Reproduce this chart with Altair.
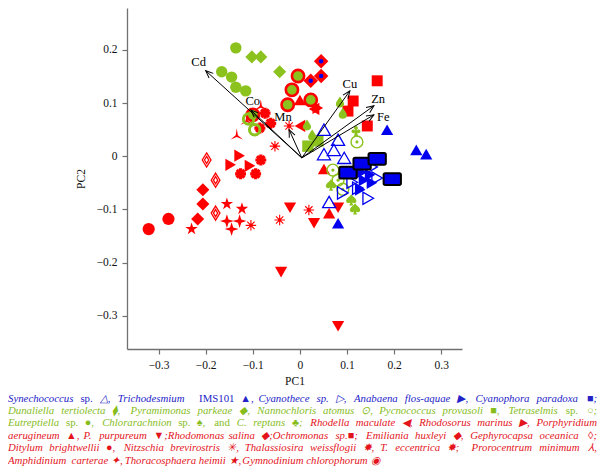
import altair as alt
import pandas as pd

BLUE = "#0000ee"
RED = "#ff0000"
GREEN = "#8cc21e"
TXT_BLUE = "#2323c8"
TXT_RED = "#e4141c"
TXT_GREEN = "#86bd1c"

# ---- species scores (PC1, PC2) ----
syn_x = [0.051, 0.081, 0.072, 0.051, 0.094, 0.062]
syn_y = [0.050, 0.031, 0.012, 0.004, -0.003, -0.086]
tri_x = [0.185, 0.247, 0.268, 0.081]
tri_y = [0.050, 0.012, 0.004, -0.126]
cyt_x = [0.153, 0.164, 0.111, 0.123, 0.145, 0.091]
cyt_y = [-0.020, -0.041, -0.049, -0.060, -0.079, -0.069]
ana_x = [0.132, 0.149, 0.153, 0.128, 0.136]
ana_y = [-0.030, -0.035, -0.050, -0.063, -0.045]
cyp_x = [0.102, 0.132, 0.164, 0.196]
cyp_y = [-0.031, -0.014, -0.005, -0.043]
dun_x = [0.015, 0.026, 0.085, 0.091]
dun_y = [0.059, 0.040, 0.102, 0.081]
pyr_x = [-0.102, -0.083, -0.043]
pyr_y = [0.187, 0.187, 0.159]
nan_x = [0.070, 0.081, 0.091, 0.121]
nan_y = [-0.026, -0.045, -0.062, 0.027]
pyc_x = [0.017, 0.038]
pyc_y = [0.019, 0.029]
tet_x = [-0.096, -0.109]
tet_y = [0.050, 0.070]
eut_x = [-0.136, -0.166, -0.145, -0.136, -0.115]
eut_y = [0.204, 0.159, 0.149, 0.130, 0.123]
chl_x = [0.066, 0.109, 0.117]
chl_y = [-0.054, -0.082, -0.099]
cre_x = [0.119]
cre_y = [0.048]
rhl_x = [0.000, 0.030]
rhl_y = [0.057, 0.089]
rhs_x = [0.038, -0.128, -0.147, -0.106]
rhs_y = [0.091, 0.001, -0.016, -0.018]
pae_x = [0.000, 0.051, 0.062]
pae_y = [0.106, -0.024, -0.107]
ppu_x = [-0.021, 0.081, 0.030, -0.040, 0.081]
ppu_y = [-0.097, -0.097, -0.126, -0.218, -0.320]
rms_x = [0.045, 0.023, 0.045]
rms_y = [0.179, 0.142, 0.151]
och_x = [0.164, 0.113, 0.102, 0.143]
och_y = [0.142, 0.104, 0.085, 0.057]
emi_x = [-0.206, -0.206, -0.217]
emi_y = [-0.063, -0.090, -0.118]
gep_x = [-0.198, -0.179, -0.179]
gep_y = [-0.007, -0.045, -0.107]
dit_x = [-0.321, -0.279]
dit_y = [-0.137, -0.118]
nit_x = [-0.023, -0.053, 0.019, -0.043, -0.104]
nit_y = [0.057, 0.019, -0.101, -0.120, -0.130]
tha_x = [-0.074, -0.062, -0.085, -0.083, -0.126, -0.094]
tha_y = [0.081, 0.062, 0.053, -0.007, -0.033, -0.033]
pro_x = [-0.134, -0.083, -0.113]
pro_y = [0.040, 0.095, 0.068]
amp_x = [-0.155, -0.128, -0.145]
amp_y = [-0.122, -0.122, -0.137]
tho_x = [-0.155, -0.123, -0.230]
tho_y = [-0.090, -0.099, -0.137]
gym_x = [-0.004, -0.017, -0.026, 0.023, -0.100]
gym_y = [0.151, 0.125, 0.097, 0.106, 0.078]

# ---- metal loadings ----
metals = ["Cd", "Co", "Mn", "Cu", "Zn", "Fe"]
load_x = [-0.200, -0.104, -0.023, 0.106, 0.157, 0.157]
load_y = [0.161, 0.087, 0.050, 0.123, 0.095, 0.078]
lab_x = [-0.215, -0.100, -0.036, 0.106, 0.166, 0.177]
lab_y = [0.177, 0.104, 0.074, 0.136, 0.108, 0.074]
origin = [0.004, -0.003]

XTICKS = [-0.3, -0.2, -0.1, 0, 0.1, 0.2, 0.3]
YTICKS = [-0.3, -0.2, -0.1, 0, 0.1, 0.2]

# caption lines: list of (segment, colour); "^" marks an upright word; last line not justified
caption = [
    [("Synechococcus ^sp. △, Trichodesmium  ^IMS101 ▲, Cyanothece sp. ▷, Anabaena flos-aquae ▶, Cyanophora paradoxa ■;", TXT_BLUE)],
    [("Dunaliella tertiolecta ⧫, Pyramimonas parkeae ◆, Nannochloris atomus ⊙, Pycnococcus provasoli ■, Tetraselmis ^sp. ○;", TXT_GREEN)],
    [("Eutreptiella ^sp. ●, Chlorarachnion ^sp. ♠, ^and C. reptans ♣;", TXT_GREEN),
     ("Rhodella maculate ◀, Rhodosorus marinus ▶, Porphyridium", TXT_RED)],
    [("aerugineum ▲, P. purpureum ▼;Rhodomonas salina ◆;Ochromonas sp.■; Emiliania huxleyi ◆, Gephyrocapsa oceanica ◊;", TXT_RED)],
    [("Ditylum brightwellii ●, Nitzschia brevirostris ✳, Thalassiosira weissflogii ✸, T. eccentrica ✸;  Prorocentrum minimum ⅄,", TXT_RED)],
    [("Amphidinium  carterae ✦, Thoracosphaera heimii ★, Gymnodinium chlorophorum ◉", TXT_RED)],
]

# ---- caption layout (approximate Times advance widths, 1/1000 em) ----
FS = 10.8
CW = {" ": 250, ",": 250, ".": 250, ";": 333, "-": 333, ":": 333}
CW.update({d: 500 for d in "0123456789"})
CW.update(dict(zip("ABCDEFGHIJKLMNOPQRSTUVWXYZ",
                   [611, 611, 667, 722, 611, 611, 722, 722, 333, 444, 667, 556, 833, 667, 722, 611, 722,
                    611, 500, 556, 722, 611, 833, 611, 556, 556])))
CW.update(dict(zip("abcdefghijklmnopqrstuvwxyz",
                   [500, 500, 444, 500, 444, 278, 500, 500, 278, 278, 444, 278, 722, 500, 500, 500, 500,
                    389, 389, 278, 500, 444, 667, 444, 444, 389])))


def tw(s):
    return sum(CW.get(c, 780) for c in s) * FS / 1000.0


LEFT, RIGHT = -119, 470
LINE0, STEP = 390.5, 12.4
rows_i, rows_u, rows_r = [], [], []
for i, line in enumerate(caption):
    words = []
    for seg, col in line:
        words += [(w, col) for w in seg.split(" ")]
    words = [(w.lstrip("^"), col, w.startswith("^")) for w, col in words]
    widths = [tw(w) for w, _, _ in words]
    last = i == len(caption) - 1
    gap = tw(" ") if last else (RIGHT - LEFT - sum(widths)) / (len(words) - 1)
    x = LEFT
    yv = LINE0 + STEP * i
    for k, ((w, col, up), wd) in enumerate(zip(words, widths)):
        if w:
            row = {"w": w, "px": x, "py": yv, "col": col}
            if k == len(words) - 1 and not last:
                rows_r.append(dict(row, px=RIGHT))
            elif up:
                rows_u.append(row)
            else:
                rows_i.append(row)
        x += wd + gap

# ---- scales / axes ----
xscale = alt.Scale(domain=[-0.367, 0.344], nice=False, zero=False)
yscale = alt.Scale(domain=[-0.3627, 0.279], nice=False, zero=False)
lab_expr = "datum.value == 0 ? '0' : format(datum.value, '.1f')"
ax = dict(grid=False, domainColor="#707070", tickColor="#707070", domainWidth=1.3, tickWidth=1.2,
          tickSize=5, labelFont="Liberation Serif", labelFontSize=11.5, labelColor="#111",
          titleFont="Liberation Serif", titleFontSize=11.5, titleFontWeight="normal", titleColor="#111",
          labelPadding=5, labelFlush=False, labelOverlap=False)
xaxis = alt.Axis(values=XTICKS, title="PC1", labelExpr=lab_expr, titlePadding=5, **ax)
yaxis = alt.Axis(values=YTICKS, title="PC2", labelExpr=lab_expr, titlePadding=10, **ax)


def X(f="x"):
    return alt.X(f"{f}:Q", scale=xscale, axis=xaxis)


def Y(f="y"):
    return alt.Y(f"{f}:Q", scale=yscale, axis=yaxis)


def df(xs, ys):
    return pd.DataFrame({"x": xs, "y": ys})


def pts(xs, ys, **mk):
    return alt.Chart(df(xs, ys)).mark_point(opacity=1, **mk).encode(x=X(), y=Y())


# ---- custom shapes ----
def circ(cx, cy, r):
    k = 0.552 * r
    return (f"M{cx + r},{cy} C{cx + r},{cy + k} {cx + k},{cy + r} {cx},{cy + r} "
            f"C{cx - k},{cy + r} {cx - r},{cy + k} {cx - r},{cy} "
            f"C{cx - r},{cy - k} {cx - k},{cy - r} {cx},{cy - r} "
            f"C{cx + k},{cy - r} {cx + r},{cy - k} {cx + r},{cy} Z")


RRECT = ("M-0.8,-0.68 L0.8,-0.68 Q1,-0.68 1,-0.48 L1,0.48 Q1,0.68 0.8,0.68 L-0.8,0.68 "
         "Q-1,0.68 -1,0.48 L-1,-0.48 Q-1,-0.68 -0.8,-0.68 Z")
DROP = "M0,-1 C0.3,-0.45 0.75,-0.05 0.75,0.35 C0.75,0.78 0.4,1 0,1 C-0.4,1 -0.75,0.78 -0.75,0.35 C-0.75,-0.05 -0.3,-0.45 0,-1 Z"
SPADE = ("M0,-1 C0.25,-0.6 0.9,-0.3 0.9,0.2 C0.9,0.55 0.5,0.7 0.15,0.45 L0.35,1 L-0.35,1 L-0.15,0.45 "
         "C-0.5,0.7 -0.9,0.55 -0.9,0.2 C-0.9,-0.3 -0.25,-0.6 0,-1 Z")
CLUB = (circ(0, -0.5, 0.34) + " " + circ(-0.46, 0.1, 0.34) + " " + circ(0.46, 0.1, 0.34)
        + " M-0.12,-0.2 L0.12,-0.2 L0.35,1 L-0.35,1 Z")
GEPH = "M0,-1 L0.62,0 L0,1 L-0.62,0 Z M0,-0.5 L0.3,0 L0,0.5 L-0.3,0 Z"
SPOKES = "M-1,0 L1,0 M0,-1 L0,1 M-0.7,-0.7 L0.7,0.7 M-0.7,0.7 L0.7,-0.7"
TRIPOD = "M0,-1 L0.17,0.05 L0.95,0.7 L0,0.3 L-0.95,0.7 L-0.17,0.05 Z"
STAR4 = "M0,-1 L0.24,-0.24 L1,0 L0.24,0.24 L0,1 L-0.24,0.24 L-1,0 L-0.24,-0.24 Z"
STAR5 = ("M0,-1 L0.225,-0.309 L0.951,-0.309 L0.363,0.118 L0.588,0.809 L0,0.382 "
         "L-0.588,0.809 L-0.363,0.118 L-0.951,-0.309 L-0.225,-0.309 Z")
CHEVRON = "M-0.42,1 L0,0 L0.42,1"

layers = [
    # red group
    pts(dit_x, dit_y, shape="circle", size=150, filled=True, fill=RED),
    pts(emi_x, emi_y, shape="diamond", size=170, filled=True, fill=RED),
    pts(gep_x, gep_y, shape=GEPH, size=200, filled=False, stroke=RED, strokeWidth=1.3),
    pts(tho_x, tho_y, shape=STAR5, size=170, filled=True, fill=RED),
    pts(amp_x, amp_y, shape=STAR4, size=190, filled=True, fill=RED),
    pts(nit_x, nit_y, shape=SPOKES, size=110, filled=False, stroke=RED, strokeWidth=1.1),
    pts(nit_x, nit_y, shape="circle", size=12, filled=True, fill=RED),
    pts(tha_x, tha_y, shape=SPOKES, size=120, filled=False, stroke=RED, strokeWidth=3.2),
    pts(tha_x, tha_y, shape="circle", size=45, filled=True, fill=RED),
    pts(pro_x, pro_y, shape=TRIPOD, size=170, filled=True, fill=RED),
    pts(rhs_x, rhs_y, shape="triangle-right", size=150, filled=True, fill=RED),
    pts(rhl_x, rhl_y, shape="triangle-left", size=150, filled=True, fill=RED),
    pts(pae_x, pae_y, shape="triangle-up", size=150, filled=True, fill=RED),
    pts(ppu_x, ppu_y, shape="triangle-down", size=150, filled=True, fill=RED),
    pts(och_x, och_y, shape="square", size=120, filled=True, fill=RED),
    pts(rms_x, rms_y, shape="diamond", size=210, filled=True, fill=RED),
    pts(rms_x, rms_y, shape="circle", size=20, filled=True, fill=BLUE),
    # green group
    pts(eut_x, eut_y, shape="circle", size=130, filled=True, fill=GREEN),
    pts(pyr_x, pyr_y, shape="diamond", size=170, filled=True, fill=GREEN),
    pts(gym_x, gym_y, shape="circle", size=150, filled=True, fill=GREEN, stroke=RED, strokeWidth=2.6),
    pts(tet_x, tet_y, shape="circle", size=110, filled=False, stroke=GREEN, strokeWidth=3),
    pts(dun_x, dun_y, shape=DROP, size=120, filled=True, fill=GREEN),
    pts(pyc_x, pyc_y, shape="square", size=130, filled=True, fill=GREEN),
    pts(nan_x, nan_y, shape="circle", size=140, filled=False, stroke=GREEN, strokeWidth=1.4),
    pts(nan_x, nan_y, shape="circle", size=10, filled=True, fill=GREEN),
    pts(chl_x, chl_y, shape=SPADE, size=130, filled=True, fill=GREEN),
    pts(cre_x, cre_y, shape=CLUB, size=130, filled=True, fill=GREEN),
    # blue group
    pts(syn_x, syn_y, shape="triangle-up", size=170, filled=False, stroke=BLUE, strokeWidth=1.3),
    pts(tri_x, tri_y, shape="triangle-up", size=150, filled=True, fill=BLUE),
    pts(cyt_x, cyt_y, shape="triangle-right", size=150, filled=False, stroke=BLUE, strokeWidth=1.3),
    pts(ana_x, ana_y, shape="triangle-right", size=150, filled=True, fill=BLUE),
    pts(cyp_x, cyp_y, shape=RRECT, size=300, filled=True, fill=BLUE, stroke="black", strokeWidth=2),
]

# ---- loading arrows ----
arr = pd.DataFrame({"metal": metals, "x": load_x, "y": load_y, "lx": lab_x, "ly": lab_y,
                    "x0": [origin[0]] * 6, "y0": [origin[1]] * 6})
rules = alt.Chart(arr).mark_rule(color="black", strokeWidth=1).encode(
    x=X("x0"), y=Y("y0"), x2="x:Q", y2="y:Q")
heads = alt.Chart(arr).transform_calculate(
    ang="(atan2((datum.x - datum.x0) * 470, (datum.y - datum.y0) * 531) * 180 / PI + 360) % 360"
).mark_point(shape=CHEVRON, size=220, filled=False, stroke="black", strokeWidth=1, opacity=1).encode(
    x=X(), y=Y(), angle=alt.Angle("ang:Q", scale=None))
labels = alt.Chart(arr).mark_text(font="Liberation Serif", fontSize=12.5, color="black",
                                  align="center", baseline="middle").encode(
    x=X("lx"), y=Y("ly"), text="metal:N")
layers += [rules, heads, labels]

plot = alt.layer(*layers)

# ---- caption (pixel-identity scales) ----
px_scale = alt.Scale(domain=[0, 335], nice=False, zero=False)
py_scale = alt.Scale(domain=[0, 341], nice=False, zero=False, reverse=True)


def cap_layer(rows, align, style):
    return alt.Chart(pd.DataFrame(rows)).mark_text(
        font="Liberation Serif", fontStyle=style, fontSize=FS, align=align, baseline="middle"
    ).encode(
        x=alt.X("px:Q", scale=px_scale, axis=None),
        y=alt.Y("py:Q", scale=py_scale, axis=None),
        text="w:N",
        color=alt.Color("col:N", scale=None),
    )


chart = alt.layer(
    plot,
    cap_layer(rows_i, "left", "italic"),
    cap_layer(rows_u, "left", "normal"),
    cap_layer(rows_r, "right", "italic"),
).resolve_scale(
    x="independent", y="independent"
).properties(
    width=335, height=341,
    padding={"left": 119, "top": 0, "right": 136, "bottom": 118},
    autosize=alt.AutoSizeParams(type="none"),
).configure_view(stroke=None)

chart.save("out.html", embed_options={"renderer": "svg", "actions": False})
